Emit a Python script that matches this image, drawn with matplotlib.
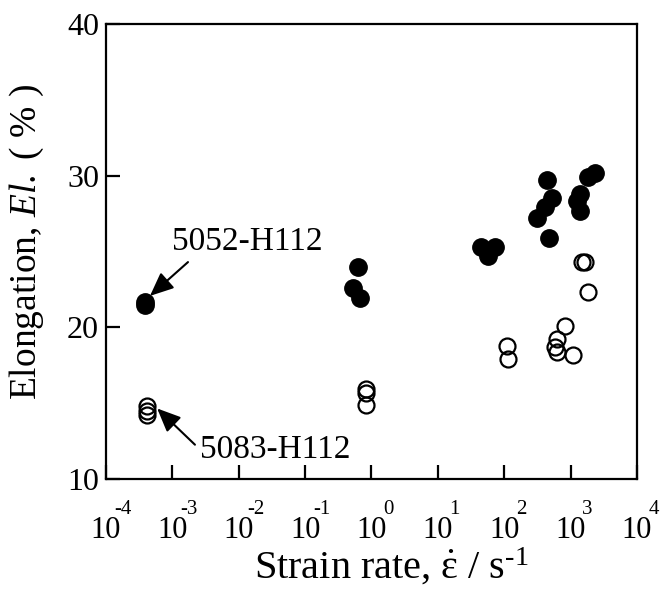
import matplotlib
matplotlib.use("Agg")
import matplotlib.pyplot as plt
from matplotlib.ticker import FixedLocator, NullFormatter, NullLocator

plt.rcParams['font.family'] = 'Liberation Serif'
plt.rcParams['mathtext.fontset'] = 'custom'
plt.rcParams['mathtext.rm'] = 'Liberation Serif'
plt.rcParams['mathtext.it'] = 'Liberation Serif:italic'
plt.rcParams['mathtext.bf'] = 'Liberation Serif:bold'

# 5052-H112 (filled)
rate_5052 = [3.9e-4, 3.9e-4, 0.62, 0.52, 0.67, 44, 72, 57,
             438, 521, 408, 309, 470, 2310, 1815, 1380, 1240, 1380]
el_5052 = [21.7, 21.5, 24.0, 22.6, 21.9, 25.3, 25.3, 24.7,
           29.7, 28.5, 27.9, 27.2, 25.9, 30.2, 29.9, 28.8, 28.3, 27.7]

# 5083-H112 (open)
rate_5083 = [4.1e-4, 4.1e-4, 4.1e-4, 0.82, 0.82, 0.84, 110, 113,
             1640, 1475, 1815, 820, 620, 578, 620, 1080]
el_5083 = [14.8, 14.5, 14.2, 15.9, 15.7, 14.9, 18.8, 17.9,
           24.3, 24.3, 22.3, 20.1, 19.2, 18.7, 18.4, 18.2]

x_exps = [-4, -3, -2, -1, 0, 1, 2, 3, 4]
x_ticks = [10.0 ** e for e in x_exps]
y_ticks = [10, 20, 30, 40]

fig = plt.figure(figsize=(6.6, 5.89), dpi=100)
ax = fig.add_axes([0.1606, 0.1868, 0.8044, 0.7725])

ax.plot(rate_5052, el_5052, 'o', color='black', markersize=12.5, zorder=3)
ax.plot(rate_5083, el_5083, 'o', markerfacecolor='none', markeredgecolor='black',
        markeredgewidth=1.6, markersize=11.5, zorder=3)

ax.set_xscale('log')
ax.set_xlim(1e-4, 1e4)
ax.set_ylim(10, 40)
ax.xaxis.set_major_locator(FixedLocator(x_ticks))
ax.xaxis.set_major_formatter(NullFormatter())
ax.xaxis.set_minor_locator(NullLocator())
ax.xaxis.set_minor_formatter(NullFormatter())
ax.set_yticks(y_ticks)

for s in ax.spines.values():
    s.set_linewidth(1.6)
ax.tick_params(axis='both', direction='in', length=10, width=1.6, top=False, right=False)
ax.tick_params(axis='y', labelsize=23, pad=5)

# x tick labels: "10" with a raised exponent, old-style
for e, t in zip(x_exps, x_ticks):
    ax.annotate('10', xy=(t, 0), xycoords=('data', 'axes fraction'),
                xytext=(0, -42.5), textcoords='offset points',
                ha='center', va='baseline', fontsize=22, annotation_clip=False)
    ax.annotate(str(e), xy=(t, 0), xycoords=('data', 'axes fraction'),
                xytext=(12, -25), textcoords='offset points',
                ha='center', va='baseline', fontsize=15, annotation_clip=False)

ax.set_xlabel('Strain rate, $\\dot{\\mathrm{\\varepsilon}}$ / s$^{\\text{-}1}$', fontsize=29)
ax.xaxis.set_label_coords(0.537, -0.2198)
ax.xaxis.label.set_verticalalignment('baseline')
ax.set_ylabel('Elongation, $\\mathit{El.}$ ( % )', fontsize=27)
ax.yaxis.set_label_coords(-0.149, 0.521)
ax.yaxis.label.set_verticalalignment('center')

arrow = dict(arrowstyle='-|>,head_length=0.8,head_width=0.35', color='black',
             lw=1.5, mutation_scale=18, shrinkA=0, shrinkB=0)
ax.annotate('', xy=(4.6e-4, 22.07), xytext=(1.72e-3, 24.3), arrowprops=arrow)
ax.annotate('', xy=(5.9e-4, 14.65), xytext=(2.19e-3, 12.26), arrowprops=arrow)
ax.text(0.124, 0.503, '5052-H112', transform=ax.transAxes, fontsize=24,
        ha='left', va='baseline')
ax.text(0.177, 0.046, '5083-H112', transform=ax.transAxes, fontsize=24,
        ha='left', va='baseline')

fig.savefig('out.png', dpi=100)
